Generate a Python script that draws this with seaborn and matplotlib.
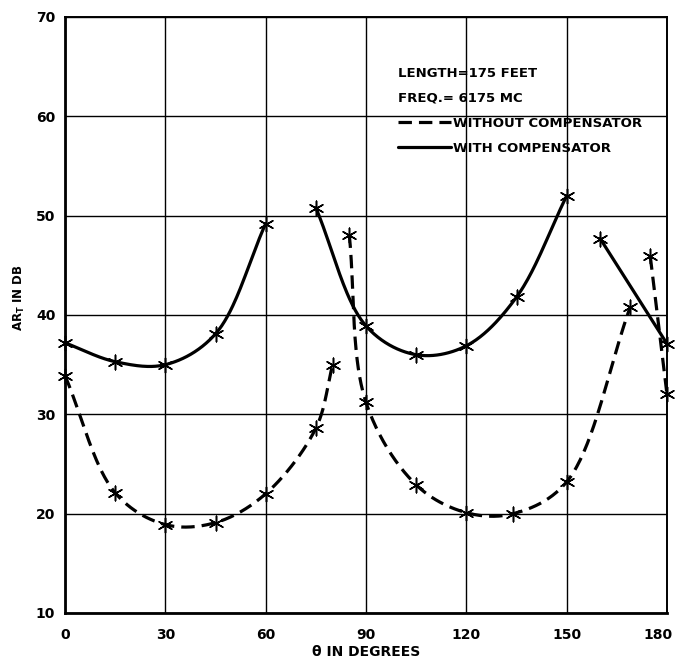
import numpy as np
import matplotlib
matplotlib.use("Agg")
import matplotlib.pyplot as plt
import matplotlib.transforms as mtransforms
import seaborn as sns
from matplotlib.lines import Line2D

# ---------------- data ----------------
x_ticks = [0, 30, 60, 90, 120, 150, 180]
y_ticks = [10, 20, 30, 40, 50, 60, 70]

with_a_x = [0, 15, 30, 45, 60]
with_a_y = [37.2, 35.3, 35.0, 38.1, 49.2]
with_b_x = [75, 90, 105, 120, 135, 150]
with_b_y = [50.8, 38.9, 36.0, 36.9, 41.8, 52.0]
with_c_x = [160, 180]
with_c_y = [47.7, 37.1]

without_a_x = [0, 15, 30, 45, 60, 75, 80]
without_a_y = [33.9, 22.1, 18.9, 19.1, 22.0, 28.6, 35.0]
without_b_x = [85, 90, 105, 120, 134, 150, 169]
without_b_y = [48.1, 31.2, 22.9, 20.1, 20.0, 23.2, 40.8]
without_c_x = [175, 180]
without_c_y = [45.9, 32.0]

header_lines = ["LENGTH=175 FEET", "FREQ.= 6175 MC"]
label_without = "WITHOUT COMPENSATOR"
label_with = "WITH COMPENSATOR"

# ---------------- helpers ----------------
YSCALE = 3.0  # visual aspect: one y-unit ~ three x-units on the page


def smooth_curve(xs, ys, n=40, alpha=0.5):
    """Centripetal Catmull-Rom through the given points (drawing aid only)."""
    P = np.column_stack([np.asarray(xs, float), np.asarray(ys, float) * YSCALE])
    if len(P) < 3:
        return np.asarray(xs, float), np.asarray(ys, float)
    P = np.vstack([2 * P[0] - P[1], P, 2 * P[-1] - P[-2]])
    out = []
    for i in range(1, len(P) - 2):
        p0, p1, p2, p3 = P[i - 1], P[i], P[i + 1], P[i + 2]
        t0 = 0.0
        t1 = t0 + np.linalg.norm(p1 - p0) ** alpha
        t2 = t1 + np.linalg.norm(p2 - p1) ** alpha
        t3 = t2 + np.linalg.norm(p3 - p2) ** alpha
        t = np.linspace(t1, t2, n)[:, None]
        a1 = (t1 - t) / (t1 - t0) * p0 + (t - t0) / (t1 - t0) * p1
        a2 = (t2 - t) / (t2 - t1) * p1 + (t - t1) / (t2 - t1) * p2
        a3 = (t3 - t) / (t3 - t2) * p2 + (t - t2) / (t3 - t2) * p3
        b1 = (t2 - t) / (t2 - t0) * a1 + (t - t0) / (t2 - t0) * a2
        b2 = (t3 - t) / (t3 - t1) * a2 + (t - t1) / (t3 - t1) * a3
        c = (t2 - t) / (t2 - t1) * b1 + (t - t1) / (t2 - t1) * b2
        out.append(c if i == 1 else c[1:])
    C = np.vstack(out)
    return C[:, 0], C[:, 1] / YSCALE


# ---------------- figure ----------------
sns.set_style("white")
plt.rcParams["font.family"] = ["DejaVu Sans"]
plt.rcParams["text.color"] = "black"
plt.rcParams["axes.labelcolor"] = "black"
plt.rcParams["xtick.color"] = "black"
plt.rcParams["ytick.color"] = "black"

fig = plt.figure(figsize=(6.75, 6.59), dpi=100)
ax = fig.add_axes([65 / 675, 1 - 613 / 659, 602 / 675, 596 / 659])

LW = 2.3
DASH = (4.2, 2.2)
MARK = (6, 2, 0)

segments = [
    (with_a_x, with_a_y, "-"),
    (with_b_x, with_b_y, "-"),
    (with_c_x, with_c_y, "-"),
    (without_a_x, without_a_y, "--"),
    (without_b_x, without_b_y, "--"),
    (without_c_x, without_c_y, "--"),
]

for xs, ys, style in segments:
    cx, cy = smooth_curve(xs, ys)
    sns.lineplot(x=cx, y=cy, sort=False, estimator=None, color="black",
                 linewidth=LW, ax=ax, zorder=4)
    ln = ax.lines[-1]
    ln.set_solid_capstyle("round")
    if style == "--":
        ln.set_dashes(DASH)
        ln.set_dash_capstyle("butt")
    sns.scatterplot(x=xs, y=ys, marker=MARK, s=110, color="black",
                    linewidth=1.1, ax=ax, zorder=5, clip_on=False)

ax.set_xlim(0, 180)
ax.set_ylim(10, 70)
ax.set_xticks(x_ticks)
ax.set_yticks(y_ticks)
ax.set_xticklabels([str(v) for v in x_ticks])
ax.set_yticklabels([str(v) for v in y_ticks])
ax.tick_params(axis="both", length=0, labelsize=10, colors="black")
ax.tick_params(axis="x", pad=11)
ax.tick_params(axis="y", pad=7)
for lab in ax.get_xticklabels() + ax.get_yticklabels():
    lab.set_fontweight("bold")
# keep the last x tick label inside the picture
last = ax.get_xticklabels()[-1]
last.set_transform(last.get_transform() +
                   mtransforms.ScaledTranslation(-9 / 100, 0, fig.dpi_scale_trans))

ax.grid(True, color="black", linewidth=1.0)
ax.set_axisbelow(True)
for name, sp in ax.spines.items():
    sp.set_visible(True)
    sp.set_color("black")
    sp.set_linewidth(2.0 if name in ("left", "bottom") else 1.4)

ax.set_xlabel("θ IN DEGREES", fontsize=10, fontweight="bold")
ax.xaxis.set_label_coords(0.5, -(645 - 613) / 596)
ax.set_ylabel(r"AR$_\mathbf{T}$ IN DB", fontsize=8.5, fontweight="bold")
ax.yaxis.set_label_coords(-(65 - 27) / 602, (613 - 298) / 596)

handles = [
    Line2D([], [], color="black", linewidth=LW, linestyle=(0, DASH)),
    Line2D([], [], color="black", linewidth=LW),
]
leg = ax.legend(handles, [label_without, label_with],
                title="\n".join(header_lines),
                loc="upper left", bbox_to_anchor=((398 - 65) / 602, (613 - 67) / 596),
                frameon=False, fontsize=9.5, title_fontsize=9.5,
                handlelength=4.0, handletextpad=0.2, labelspacing=0.92,
                borderpad=0, borderaxespad=0, alignment="left")
leg.get_title().set_fontweight("bold")
leg.get_title().set_linespacing(2.15)
for t in leg.get_texts():
    t.set_fontweight("bold")

fig.savefig("out.png", dpi=100, facecolor="white")
